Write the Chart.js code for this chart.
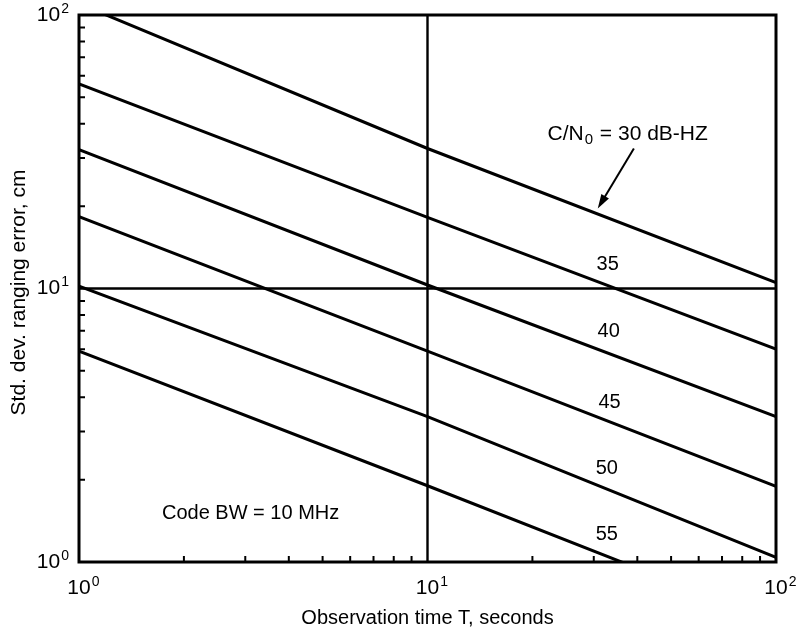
<!DOCTYPE html>
<html>
<head>
<meta charset="utf-8">
<script src="https://cdn.jsdelivr.net/npm/chart.js@4.4.1/dist/chart.umd.min.js"></script>
<style>
  html, body { margin: 0; padding: 0; background: #fff; }
  #wrap { width: 797px; height: 633px; }
</style>
</head>
<body>
<div id="wrap"><canvas id="chart" width="797" height="633"></canvas></div>
<script>
// observation time T (s) where values were read
const times = [1, 10, 100];

// std. dev. ranging error (cm), one array per C/N0 curve
const cn30 = [110, 32.5, 10.5];
const cn35 = [56, 18.2, 6.0];
const cn40 = [32.2, 10.3, 3.4];
const cn45 = [18.3, 5.9, 1.89];
const cn50 = [10.2, 3.4, 1.04];
const cn55 = [5.9, 1.9, 0.6];

const curveNames = ["30", "35", "40", "45", "50", "55"];
const curves = [cn30, cn35, cn40, cn45, cn50, cn55];

// axis ticks: major values with exponent labels, minor values
const majorTicks = [1, 10, 100];
const majorExp = ["0", "1", "2"];
const minorTicks = [2, 3, 4, 5, 6, 7, 8, 9, 20, 30, 40, 50, 60, 70, 80, 90];

const FONT = "'Liberation Sans', Arial, Helvetica, sans-serif";

const datasets = curves.map((vals, i) => ({
  label: curveNames[i],
  data: times.map((t, j) => ({ x: t, y: vals[j] })),
  borderColor: "#000",
  borderWidth: 3,
  pointRadius: 0,
  tension: 0,
  fill: false,
}));

function powText(ctx, exp, x, y, align) {
  ctx.font = "21px " + FONT;
  const w1 = ctx.measureText("10").width;
  ctx.font = "14px " + FONT;
  const w2 = ctx.measureText(exp).width;
  let left;
  if (align === "center") left = x - w1 / 2;
  else left = x - w1 - w2 - 1;
  ctx.textAlign = "left";
  ctx.textBaseline = "middle";
  ctx.font = "21px " + FONT;
  ctx.fillText("10", left, y);
  ctx.font = "14px " + FONT;
  ctx.fillText(exp, left + w1 + 1, y - 6);
}

const paperPlugin = {
  id: "paper",
  beforeDatasetsDraw(chart) {
    const { ctx, chartArea: a, scales } = chart;
    const xs = scales.x, ys = scales.y;
    ctx.save();
    ctx.strokeStyle = "#000";
    // gridlines at 10 only
    ctx.lineWidth = 2.4;
    const gx = xs.getPixelForValue(10);
    const gy = ys.getPixelForValue(10);
    ctx.beginPath();
    ctx.moveTo(gx, a.top); ctx.lineTo(gx, a.bottom);
    ctx.moveTo(a.left, gy); ctx.lineTo(a.right, gy);
    ctx.stroke();
    ctx.restore();
  },
  afterDraw(chart) {
    const { ctx, chartArea: a, scales } = chart;
    const xs = scales.x, ys = scales.y;
    ctx.save();
    ctx.strokeStyle = "#000";
    ctx.fillStyle = "#000";

    // frame
    ctx.lineWidth = 3;
    ctx.strokeRect(a.left, a.top, a.right - a.left, a.bottom - a.top);

    // inward minor ticks on left and bottom
    ctx.lineWidth = 2;
    ctx.beginPath();
    minorTicks.forEach((v) => {
      const px = xs.getPixelForValue(v);
      ctx.moveTo(px, a.bottom); ctx.lineTo(px, a.bottom - 6);
      const py = ys.getPixelForValue(v);
      ctx.moveTo(a.left, py); ctx.lineTo(a.left + 6, py);
    });
    ctx.stroke();

    // tick labels
    majorTicks.forEach((v, i) => {
      powText(ctx, majorExp[i], xs.getPixelForValue(v), a.bottom + 26, "center");
      powText(ctx, majorExp[i], a.left - 10, ys.getPixelForValue(v), "right");
    });

    // axis titles
    ctx.font = "20px " + FONT;
    ctx.textAlign = "center";
    ctx.textBaseline = "middle";
    ctx.fillText("Observation time T, seconds", (a.left + a.right) / 2, a.bottom + 56);
    ctx.save();
    ctx.font = "21px " + FONT;
    ctx.translate(19, ys.getPixelForValue(10) + 4);
    ctx.rotate(-Math.PI / 2);
    ctx.fillText("Std. dev. ranging error, cm", 0, 0);
    ctx.restore();

    // curve labels
    ctx.font = "20px " + FONT;
    const tags = [
      ["35", 32.9, 12.2],
      ["40", 33.1, 6.97],
      ["45", 33.3, 3.83],
      ["50", 32.7, 2.2],
      ["55", 32.7, 1.26],
    ];
    tags.forEach(([t, x, y]) => {
      ctx.fillText(t, xs.getPixelForValue(x), ys.getPixelForValue(y));
    });

    // C/N0 label
    ctx.font = "21px " + FONT;
    ctx.textAlign = "left";
    let lx = xs.getPixelForValue(22.1);
    const ly = ys.getPixelForValue(36.6);
    ctx.fillText("C/N", lx, ly);
    lx += ctx.measureText("C/N").width + 1;
    ctx.font = "15px " + FONT;
    ctx.fillText("0", lx, ly + 5);
    lx += ctx.measureText("0").width + 1;
    ctx.font = "21px " + FONT;
    ctx.fillText(" = 30 dB-HZ", lx, ly);

    // arrow
    const x0 = xs.getPixelForValue(39.1), y0 = ys.getPixelForValue(32.5);
    const x1 = xs.getPixelForValue(30.8), y1 = ys.getPixelForValue(19.6);
    const ang = Math.atan2(y1 - y0, x1 - x0);
    ctx.lineWidth = 2;
    ctx.beginPath();
    ctx.moveTo(x0, y0);
    ctx.lineTo(x1 - 10 * Math.cos(ang), y1 - 10 * Math.sin(ang));
    ctx.stroke();
    ctx.beginPath();
    ctx.moveTo(x1, y1);
    ctx.lineTo(x1 - 15 * Math.cos(ang - 0.3), y1 - 15 * Math.sin(ang - 0.3));
    ctx.lineTo(x1 - 15 * Math.cos(ang + 0.3), y1 - 15 * Math.sin(ang + 0.3));
    ctx.closePath();
    ctx.fill();

    // bandwidth note
    ctx.font = "20px " + FONT;
    ctx.fillText("Code BW = 10 MHz", xs.getPixelForValue(1.73), ys.getPixelForValue(1.5));
    ctx.restore();
  },
};

const ctx = document.getElementById("chart").getContext("2d");
const chart = new Chart(ctx, {
  type: "line",
  data: { datasets: datasets },
  options: {
    responsive: false,
    animation: false,
    layout: { padding: { left: 79, right: 21, top: 15, bottom: 71 } },
    plugins: { legend: { display: false }, tooltip: { enabled: false } },
    scales: {
      x: { type: "logarithmic", min: 1, max: 100, display: false },
      y: { type: "logarithmic", min: 1, max: 100, display: false },
    },
  },
  plugins: [paperPlugin],
});
</script>
</body>
</html>
